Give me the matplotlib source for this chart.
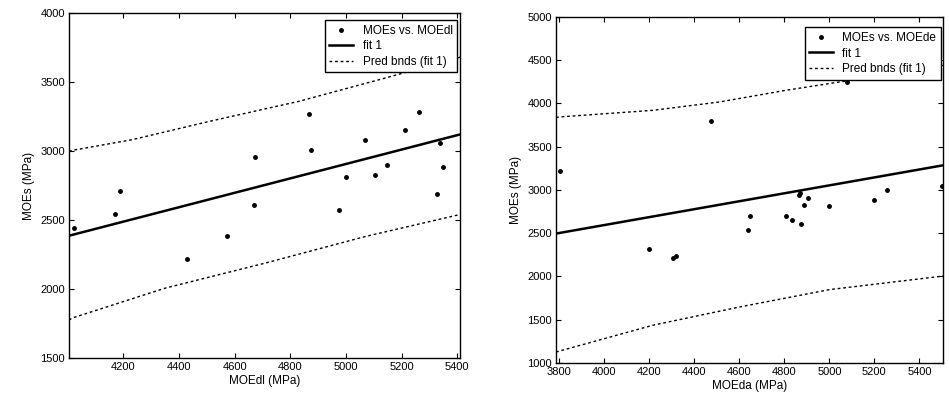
import numpy as np
import matplotlib
matplotlib.use('Agg')
from matplotlib import pyplot as plt
from matplotlib import ticker

plt.rcParams['font.family'] = ['Liberation Sans', 'DejaVu Sans']

# MOEs against MOEdl
moedl = [4022, 4172, 4190, 4430, 4574, 4669, 4673, 4866, 4875, 4977,
         5000, 5067, 5104, 5149, 5214, 5262, 5326, 5338, 5350]
moes_l = [2442, 2543, 2710, 2217, 2381, 2611, 2954, 3270, 3009, 2575,
          2815, 3077, 2828, 2901, 3154, 3280, 2686, 3058, 2881]
# fit 1 end points and prediction bounds
fit_l_x = [4005, 5410]
fit_l_y = [2386, 3120]
upper_l_x = [4005, 4029, 4232, 4508, 4831, 5142, 5410]
upper_l_y = [2998, 3009, 3082, 3214, 3360, 3529, 3680]
lower_l_x = [4005, 4017, 4352, 4711, 5071, 5406, 5410]
lower_l_y = [1775, 1790, 2007, 2188, 2381, 2538, 2541]

# MOEs against MOEda
moeda = [3803, 4200, 4307, 4318, 4474, 4637, 4646, 4806, 4834, 4867,
         4869, 4874, 4886, 4907, 4999, 5079, 5200, 5256, 5500]
moes_r = [3216, 2314, 2218, 2241, 3794, 2542, 2704, 2696, 2650, 2946,
          2962, 2603, 2823, 2908, 2812, 4249, 2881, 2997, 3046]
fit_r_x = [3785, 5505]
fit_r_y = [2496, 3285]
upper_r_x = [3785, 3800, 4216, 4511, 4808, 5074, 5505]
upper_r_y = [3838, 3844, 3921, 4017, 4153, 4260, 4440]
lower_r_x = [3785, 4215, 4600, 5000, 5496, 5505]
lower_r_y = [1127, 1436, 1647, 1848, 2002, 2004]

fig = plt.figure(figsize=(9.49, 4.03), dpi=100)
ax1 = fig.add_axes([0.0727, 0.1117, 0.412, 0.856])
ax2 = fig.add_axes([0.5859, 0.0993, 0.4078, 0.8586])


def draw(ax, x, y, fx, fy, ux, uy, lx, ly, name, xlabel, xlim, ylim, yticks, xticks, anchor):
    ax.plot(x, y, 'k.', markersize=5, label=name)
    ax.plot(fx, fy, 'k-', linewidth=1.8, label='fit 1')
    ax.plot(ux, uy, color='k', linestyle=(0, (2, 2)), linewidth=1.0, label='Pred bnds (fit 1)')
    ax.plot(lx, ly, color='k', linestyle=(0, (2, 2)), linewidth=1.0)
    ax.set_xlim(xlim)
    ax.set_ylim(ylim)
    ax.yaxis.set_major_locator(ticker.FixedLocator(yticks))
    ax.xaxis.set_major_locator(ticker.FixedLocator(xticks))
    ax.tick_params(direction='in', length=3.5, width=0.8, top=True, right=True,
                   labelsize=8, pad=3)
    for s in ax.spines.values():
        s.set_linewidth(1.0)
    ax.set_xlabel(xlabel, fontsize=8.5, labelpad=2)
    ax.set_ylabel('MOEs (MPa)', fontsize=8.5, labelpad=4)
    leg = ax.legend(loc='upper right', bbox_to_anchor=anchor, fontsize=8.5,
                    frameon=True, fancybox=False, borderaxespad=0,
                    handlelength=2.0, labelspacing=0.3, borderpad=0.4)
    leg.get_frame().set_edgecolor('k')
    leg.get_frame().set_linewidth(1.0)
    leg.get_frame().set_alpha(1)


draw(ax1, moedl, moes_l, fit_l_x, fit_l_y, upper_l_x, upper_l_y, lower_l_x, lower_l_y,
     'MOEs vs. MOEdl', 'MOEdl (MPa)', (4005, 5410), (1500, 4000),
     np.arange(1500, 4001, 500), np.arange(4200, 5401, 200), (0.993, 0.98))
draw(ax2, moeda, moes_r, fit_r_x, fit_r_y, upper_r_x, upper_r_y, lower_r_x, lower_r_y,
     'MOEs vs. MOEde', 'MOEda (MPa)', (3785, 5505), (1000, 5000),
     np.arange(1000, 5001, 500), np.arange(3800, 5401, 200), (0.995, 0.97))

fig.savefig('out.png', dpi=100)
